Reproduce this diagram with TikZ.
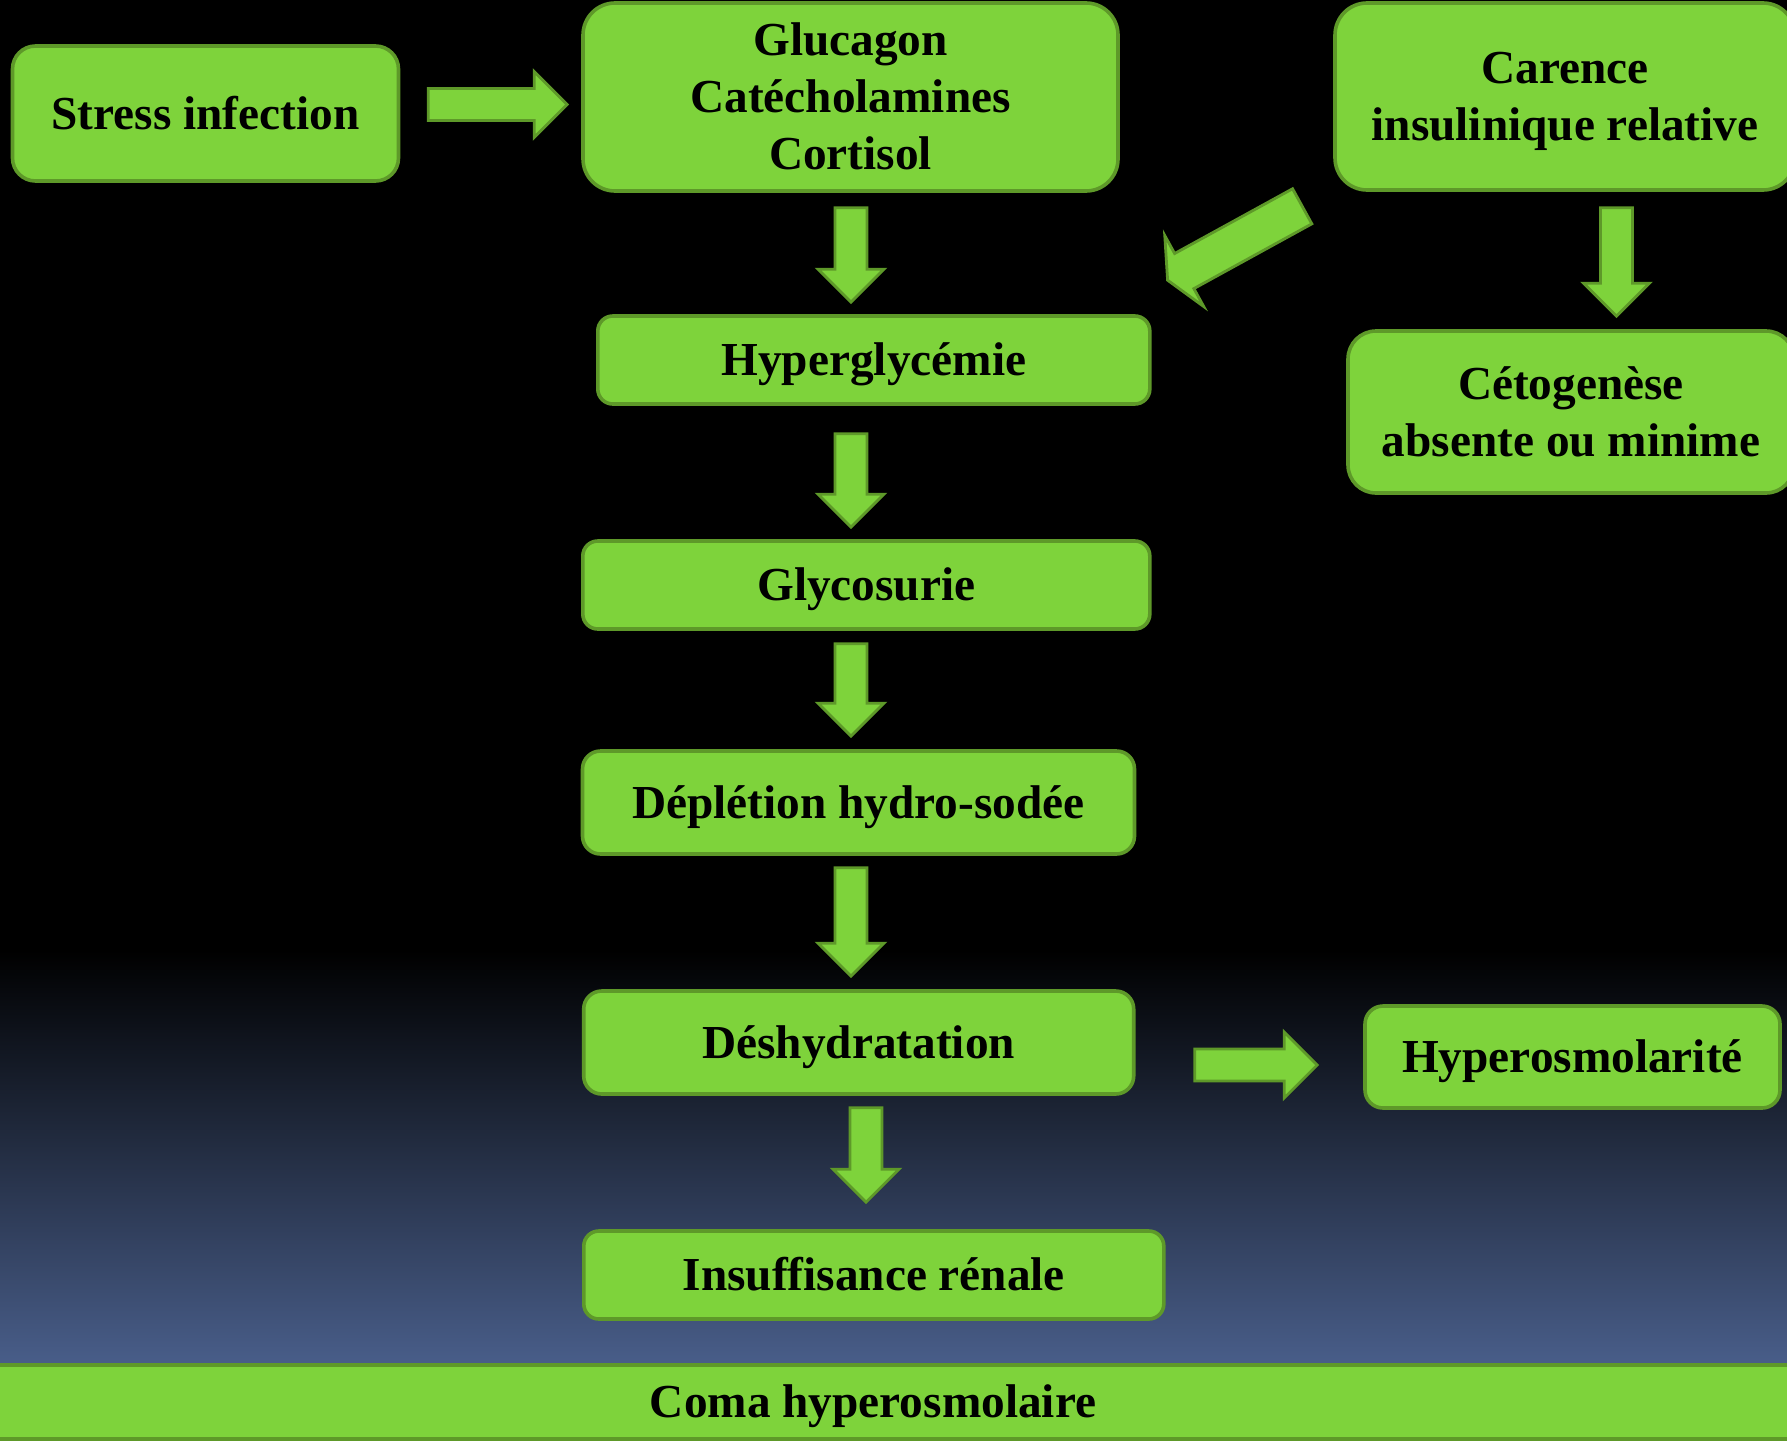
\documentclass[tikz,border=0pt]{standalone}
\usepackage{fontspec}
\setmainfont{Liberation Serif}
\usetikzlibrary{calc}

\definecolor{boxfill}{RGB}{126,211,59}
\definecolor{boxline}{RGB}{94,153,41}
\definecolor{bgblue}{RGB}{73,94,138}

\tikzset{
  flowbox/.style={draw=boxline, fill=boxfill, line width=1.8pt, rounded corners=#1,
    inner sep=0pt, align=center, text height=15.6pt, text depth=0pt,
    font=\bfseries\fontsize{23.65}{28.5}\selectfont},
  flowbox/.default=8pt,
  bar/.style={draw=boxline, fill=boxfill, line width=1.8pt, inner sep=0pt,
    text height=15.6pt, text depth=0pt, font=\bfseries\fontsize{23.65}{28.5}\selectfont},
  blockarrow/.style={draw=boxline, fill=boxfill, line width=1.4pt, line join=miter}
}

% block arrow between two points
\newcommand{\shafthw}{8pt}
\newcommand{\headhw}{16.5pt}
\newcommand{\headlen}{16.5pt}
\newcommand{\blockarrow}[2]{%
  \coordinate (ba-s) at (#1);
  \coordinate (ba-e) at (#2);
  \coordinate (ba-h) at ($(ba-e)!\headlen!(ba-s)$);
  \draw[blockarrow] ($(ba-s)!\shafthw!90:(ba-e)$) -- ($(ba-h)!\shafthw!90:(ba-e)$)
    -- ($(ba-h)!\headhw!90:(ba-e)$) -- (ba-e) -- ($(ba-h)!\headhw!-90:(ba-e)$)
    -- ($(ba-h)!\shafthw!-90:(ba-e)$) -- ($(ba-s)!\shafthw!-90:(ba-e)$) -- cycle;
}

\begin{document}
\begin{tikzpicture}[x=0.5pt, y=-0.5pt]
		\useasboundingbox (0,0) rectangle (1787,1440);
		% Background
		\fill[black] (0,0) rectangle (1787,950);
		\shade[top color=black, bottom color=bgblue] (0,950) rectangle (1787,1366);
		
		% Define nodes
		\node[flowbox=11.5pt, minimum width=193pt, minimum height=67.5pt] (stress) at (205.5,113.5) {Stress infection};
		\node[flowbox=16pt, minimum width=267.5pt, minimum height=94pt, text height=72.6pt] (gluc) at (850.5,97) {Glucagon\\Catécholamines\\Cortisol};
		\node[flowbox=16pt, minimum width=230pt, minimum height=93.5pt, text height=44.1pt] (carence) at (1565,96.5) {Carence\\insulinique relative};
		\node[flowbox=7.5pt, minimum width=276pt, minimum height=44pt] (hyper) at (873.8,360) {Hyperglycémie};
		\node[flowbox=14pt, minimum width=223pt, minimum height=81pt, text height=44.1pt] (ceto) at (1571,412) {Cétogenèse\\absente ou minime};
		\node[flowbox=7.5pt, minimum width=283.5pt, minimum height=44pt] (glyco) at (866.3,585) {Glycosurie};
		\node[flowbox=9pt, minimum width=276pt, minimum height=51.5pt] (deplet) at (858.5,802.5) {Déplétion hydro-sodée};
		\node[flowbox=9pt, minimum width=275pt, minimum height=51.5pt] (deshy) at (858.7,1042.5) {Déshydratation};
		\node[flowbox=9pt, minimum width=207.5pt, minimum height=51pt] (osmo) at (1572.5,1057) {Hyperosmolarité};
		\node[flowbox=7.5pt, minimum width=290pt, minimum height=44pt] (insuff) at (873.8,1275) {Insuffisance rénale};
		\node[bar, minimum width=921pt, minimum height=37pt] (coma) at (873,1402) {Coma hyperosmolaire};
		
		% Connect the nodes
		\blockarrow{[xshift=14pt,yshift=4.5pt]stress.east}{[xshift=-7pt,yshift=-3.75pt]gluc.west}
		\blockarrow{[xshift=0.25pt,yshift=-7.5pt]gluc.south}{[xshift=-11.4pt,yshift=6pt]hyper.north}
		\blockarrow{[xshift=-11.4pt,yshift=-14pt]hyper.south}{[xshift=-7.65pt,yshift=6pt]glyco.north}
		\blockarrow{[xshift=-7.65pt,yshift=-6.5pt]glyco.south}{[xshift=-3.75pt,yshift=6.5pt]deplet.north}
		\blockarrow{[xshift=-3.75pt,yshift=-6pt]deplet.south}{[xshift=-3.85pt,yshift=6.5pt]deshy.north}
		\blockarrow{[xshift=3.65pt,yshift=-6pt]deshy.south}{[xshift=-3.9pt,yshift=13.5pt]insuff.north}
		\blockarrow{[xshift=29.65pt,yshift=-11.25pt]deshy.east}{[xshift=-23pt,yshift=-4pt]osmo.west}
		\blockarrow{[xshift=25.75pt,yshift=-8pt]carence.south}{[xshift=22.75pt,yshift=6.5pt]ceto.north}
		{\renewcommand{\shafthw}{10pt}\renewcommand{\headhw}{20.25pt}\renewcommand{\headlen}{9.5pt}
		\blockarrow{[xshift=-15.5pt,yshift=-7.25pt]carence.south west}{[xshift=8pt,yshift=17pt]hyper.north east}}
	\end{tikzpicture}
\end{document}
